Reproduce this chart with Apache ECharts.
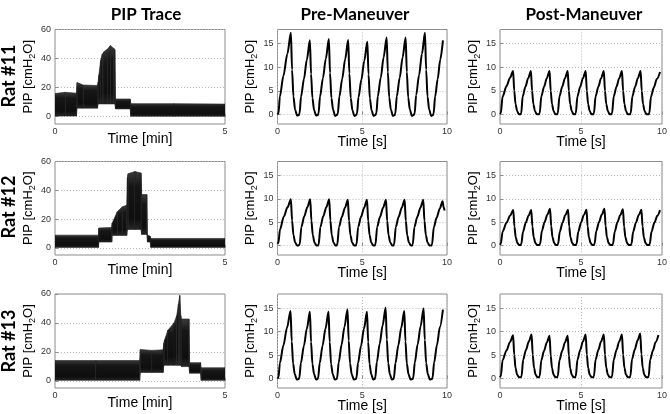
<!DOCTYPE html>
<html><head><meta charset="utf-8">
<script src="https://cdn.jsdelivr.net/npm/echarts@6/dist/echarts.min.js"></script>
<style>html,body{margin:0;padding:0;background:#fff}#c{width:670px;height:414px}</style>
</head><body><div id="c"></div>
<script>
// ---------- text / ticks ----------
const colTitles = ['PIP Trace', 'Pre-Maneuver', 'Post-Maneuver'];
const rowLabels = ['Rat #11', 'Rat #12', 'Rat #13'];
const traceTicksY = [0, 20, 40, 60];
const waveTicksY = [0, 5, 10, 15];

// ---------- PIP trace envelopes (time in min, low / high PIP) ----------
const trace11T    = [0, 0.30, 0.63, 0.65, 0.83, 1.25, 1.27, 1.29, 1.34, 1.39, 1.44, 1.54, 1.63, 1.73, 1.76, 1.78, 2.21, 2.23, 3.5, 5.0];
const trace11Low  = [0.5, 0.5, 0.5, 5.9, 5.9, 5.9, 8.8, 8.8, 8.8, 8.8, 8.8, 8.8, 8.8, 8.8, 8.8, 5.4, 5.4, 0.3, 0.3, 0.3];
const trace11High = [16, 16.8, 16.2, 23.5, 21.8, 21.5, 24, 28.5, 38.6, 43, 44.7, 46.5, 49, 47, 46, 12.2, 12.2, 9, 9, 8.7];

const trace12T    = [0, 1.28, 1.29, 1.67, 1.68, 1.83, 1.98, 2.11, 2.13, 2.15, 2.35, 2.53, 2.55, 2.70, 2.72, 2.80, 2.82, 5.0];
const trace12Low  = [0.3, 0.3, 4, 4, 8.6, 8.6, 8.6, 8.6, 12.7, 12.7, 12.7, 12.7, 9.3, 9.3, 4, 4, 0.3, 0.3];
const trace12High = [8.8, 8.8, 13.8, 14.2, 17, 25, 28.5, 29.6, 48.8, 51.5, 53, 52, 37, 37, 9, 8, 6.5, 6.5];

const trace13T    = [0, 1.2, 2.49, 2.51, 2.85, 3.18, 3.20, 3.22, 3.32, 3.50, 3.58, 3.63, 3.67, 3.70, 3.72, 3.94, 3.96, 4.28, 4.30, 5.0];
const trace13Low  = [0.3, 0.3, 0.3, 5.7, 5.7, 5.7, 10.7, 10.7, 10.7, 10.7, 10.7, 10.7, 10.7, 10.7, 9.8, 9.8, 5.2, 5.2, 0.3, 0.3];
const trace13High = [14, 14, 14, 21.6, 21, 21.4, 26, 28, 35, 40, 45, 53, 59, 45, 42.7, 42.7, 12.5, 12.5, 9, 9];

// ---------- breath waveforms [time s, PIP] ----------
const pre11 = [[0,0],[0.06,0.3],[0.14,3.8],[0.35,8.2],[0.58,12.8],[0.79,17.3],
[0.86,9.5],[0.94,3.8],[1.04,1.0],[1.16,-0.2],[1.26,-0.1],
[1.30,0.2],[1.39,3.8],[1.56,7.5],[1.73,11.6],[1.91,15.7],
[1.98,8.6],[2.06,3.5],[2.16,0.9],[2.28,-0.2],[2.38,-0.1],
[2.42,0.2],[2.51,3.8],[2.68,7.7],[2.85,11.8],[3.03,16.0],
[3.10,8.8],[3.18,3.5],[3.28,1.0],[3.40,-0.3],[3.50,-0.1],
[3.56,0.2],[3.65,3.8],[3.82,7.6],[3.99,11.7],[4.17,15.8],
[4.24,8.7],[4.32,3.5],[4.42,0.9],[4.54,-0.3],[4.64,-0.1],
[4.69,0.2],[4.78,3.7],[4.95,7.4],[5.12,11.4],[5.30,15.4],
[5.37,8.5],[5.45,3.4],[5.55,0.9],[5.67,-0.3],[5.77,-0.1],
[5.83,0.2],[5.92,3.9],[6.09,7.8],[6.26,12.1],[6.44,16.3],
[6.51,9.0],[6.59,3.6],[6.69,1.0],[6.81,-0.3],[6.91,-0.1],
[6.95,0.2],[7.04,3.9],[7.21,7.8],[7.38,12.1],[7.56,16.3],
[7.63,9.0],[7.71,3.6],[7.81,1.0],[7.93,-0.3],[8.03,-0.1],
[8.09,0.2],[8.18,4.1],[8.35,8.3],[8.52,12.8],[8.70,17.3],
[8.77,9.5],[8.85,3.8],[8.95,1.0],[9.07,-0.3],[9.17,-0.1],
[9.21,0.2],[9.30,3.8],[9.45,7.5],[9.60,11.6],[9.76,15.7]];

const post11 = [[0,0.1],[0.05,0.3],[0.16,3.8],[0.4,6.0],[0.62,7.8],[0.81,9.2],
[0.88,5.0],[0.96,2.2],[1.06,0.7],[1.17,0.05],[1.27,0.05],
[1.31,0.3],[1.40,3.8],[1.57,5.9],[1.74,7.7],[1.91,9.2],
[1.98,5.0],[2.06,2.2],[2.16,0.7],[2.27,0.05],[2.41,0.05],
[2.45,0.3],[2.55,3.8],[2.72,5.9],[2.89,7.7],[3.06,9.2],
[3.13,5.0],[3.21,2.2],[3.31,0.7],[3.42,0.05],[3.53,0.05],
[3.57,0.3],[3.67,3.8],[3.84,5.9],[4.01,7.7],[4.18,9.2],
[4.25,5.0],[4.33,2.2],[4.43,0.7],[4.54,0.05],[4.64,0.05],
[4.68,0.3],[4.78,3.8],[4.95,5.9],[5.12,7.7],[5.29,9.2],
[5.36,5.0],[5.44,2.2],[5.54,0.7],[5.65,0.05],[5.76,0.05],
[5.80,0.3],[5.90,3.8],[6.07,5.9],[6.24,7.7],[6.41,9.2],
[6.48,5.0],[6.56,2.2],[6.66,0.7],[6.77,0.05],[6.88,0.05],
[6.92,0.3],[7.02,3.8],[7.19,5.9],[7.36,7.7],[7.53,9.2],
[7.60,5.0],[7.68,2.2],[7.78,0.7],[7.89,0.05],[8.03,0.05],
[8.07,0.3],[8.17,3.8],[8.34,5.9],[8.51,7.7],[8.68,9.2],
[8.75,5.0],[8.83,2.2],[8.93,0.7],[9.04,0.05],[9.18,0.05],
[9.22,0.3],[9.32,3.8],[9.50,5.8],[9.68,7.5],[9.88,9.0]];

const pre12 = [[0,0.4],[0.05,0.6],[0.15,3.5],[0.37,6.2],[0.59,8.2],[0.79,9.9],
[0.86,5.4],[0.94,2.3],[1.04,0.7],[1.15,0.05],[1.25,0.05],
[1.31,0.3],[1.41,4.0],[1.58,6.3],[1.76,8.2],[1.93,9.9],
[2.00,5.4],[2.08,2.3],[2.18,0.7],[2.29,0.05],[2.39,0.05],
[2.43,0.3],[2.53,4.0],[2.70,6.3],[2.88,8.2],[3.05,9.9],
[3.12,5.4],[3.20,2.3],[3.30,0.7],[3.41,0.05],[3.49,0.05],
[3.53,0.3],[3.63,4.0],[3.80,6.2],[3.98,8.1],[4.15,9.8],
[4.22,5.3],[4.30,2.3],[4.40,0.7],[4.51,0.05],[4.62,0.05],
[4.66,0.3],[4.76,4.0],[4.93,6.2],[5.11,8.1],[5.28,9.8],
[5.35,5.3],[5.43,2.3],[5.53,0.7],[5.64,0.05],[5.74,0.05],
[5.78,0.3],[5.88,4.0],[6.05,6.2],[6.23,8.1],[6.40,9.8],
[6.47,5.3],[6.55,2.3],[6.65,0.7],[6.76,0.05],[6.84,0.05],
[6.88,0.3],[6.98,4.0],[7.15,6.2],[7.33,8.1],[7.50,9.8],
[7.57,5.3],[7.65,2.3],[7.75,0.7],[7.86,0.05],[7.94,0.05],
[7.98,0.3],[8.08,4.0],[8.25,6.2],[8.43,8.1],[8.60,9.8],
[8.67,5.3],[8.75,2.3],[8.85,0.7],[8.96,0.05],[9.08,0.05],
[9.12,0.3],[9.22,3.9],[9.39,6.0],[9.57,7.9],[9.74,9.5],
[9.80,8.2],[9.86,7.5]];

const post12 = [[0,0.2],[0.05,0.4],[0.16,3.0],[0.4,4.9],[0.62,6.4],[0.82,7.6],
[0.89,4.1],[0.97,1.8],[1.07,0.6],[1.18,0.15],[1.28,0.15],
[1.32,0.4],[1.42,3.0],[1.59,4.9],[1.76,6.4],[1.93,7.6],
[2.00,4.1],[2.08,1.8],[2.18,0.6],[2.29,0.15],[2.44,0.15],
[2.48,0.4],[2.58,3.1],[2.75,5.0],[2.92,6.6],[3.09,7.9],
[3.16,4.2],[3.24,1.8],[3.34,0.6],[3.45,0.15],[3.55,0.15],
[3.59,0.4],[3.69,3.0],[3.86,4.9],[4.03,6.5],[4.20,7.7],
[4.27,4.1],[4.35,1.8],[4.45,0.6],[4.56,0.15],[4.69,0.15],
[4.73,0.4],[4.83,3.0],[5.00,4.9],[5.17,6.5],[5.34,7.7],
[5.41,4.1],[5.49,1.8],[5.59,0.6],[5.70,0.15],[5.80,0.15],
[5.84,0.4],[5.94,3.1],[6.11,5.0],[6.28,6.6],[6.45,7.9],
[6.52,4.2],[6.60,1.8],[6.70,0.6],[6.81,0.15],[6.94,0.15],
[6.98,0.4],[7.08,3.0],[7.25,5.0],[7.42,6.5],[7.59,7.8],
[7.66,4.1],[7.74,1.8],[7.84,0.6],[7.95,0.15],[8.08,0.15],
[8.12,0.4],[8.22,3.0],[8.39,4.9],[8.56,6.5],[8.73,7.7],
[8.80,4.1],[8.88,1.8],[8.98,0.6],[9.09,0.15],[9.21,0.15],
[9.25,0.4],[9.35,3.0],[9.53,4.9],[9.71,6.4],[9.88,7.6]];

const pre13 = [[0,0],[0.06,0.3],[0.14,3.3],[0.35,7.1],[0.56,10.8],[0.77,14.4],
[0.84,7.9],[0.92,3.2],[1.02,0.9],[1.14,-0.2],[1.25,-0.1],
[1.29,0.2],[1.38,3.3],[1.56,7.0],[1.73,10.6],[1.91,14.2],
[1.98,7.8],[2.06,3.1],[2.16,0.9],[2.28,-0.2],[2.36,-0.1],
[2.40,0.2],[2.49,3.3],[2.66,7.0],[2.83,10.6],[3.01,14.2],
[3.08,7.8],[3.16,3.1],[3.26,0.9],[3.38,-0.2],[3.48,-0.1],
[3.52,0.2],[3.61,3.4],[3.78,7.2],[3.95,11.0],[4.13,14.7],
[4.20,8.1],[4.28,3.2],[4.38,0.9],[4.50,-0.2],[4.62,-0.1],
[4.66,0.2],[4.75,3.3],[4.93,7.0],[5.10,10.6],[5.28,14.2],
[5.35,7.8],[5.43,3.1],[5.53,0.9],[5.65,-0.2],[5.73,-0.1],
[5.77,0.2],[5.86,3.5],[6.03,7.4],[6.20,11.3],[6.38,15.1],
[6.45,8.3],[6.53,3.3],[6.63,0.9],[6.75,-0.2],[6.83,-0.1],
[6.87,0.2],[6.96,3.3],[7.13,7.1],[7.30,10.8],[7.48,14.4],
[7.55,7.9],[7.63,3.2],[7.73,0.9],[7.85,-0.2],[7.97,-0.1],
[8.01,0.2],[8.10,3.4],[8.27,7.3],[8.44,11.1],[8.62,14.9],
[8.69,8.2],[8.77,3.3],[8.87,0.9],[8.99,-0.2],[9.11,-0.1],
[9.15,0.2],[9.24,3.4],[9.41,7.2],[9.58,11.0],[9.76,14.7]];

const post13 = [[0,0.3],[0.05,0.5],[0.16,3.9],[0.4,6.0],[0.62,7.8],[0.81,9.2],
[0.88,5.0],[0.96,2.2],[1.06,0.8],[1.17,0.3],[1.29,0.3],
[1.33,0.5],[1.43,4.0],[1.60,6.1],[1.78,7.9],[1.95,9.4],
[2.02,5.1],[2.10,2.3],[2.20,0.8],[2.31,0.3],[2.41,0.3],
[2.45,0.5],[2.55,3.9],[2.72,5.9],[2.89,7.7],[3.06,9.1],
[3.13,4.9],[3.21,2.2],[3.31,0.8],[3.42,0.3],[3.53,0.3],
[3.57,0.5],[3.67,3.9],[3.84,5.9],[4.01,7.7],[4.18,9.1],
[4.25,4.9],[4.33,2.2],[4.43,0.8],[4.54,0.3],[4.64,0.3],
[4.68,0.5],[4.78,4.0],[4.95,6.1],[5.12,7.9],[5.29,9.4],
[5.36,5.1],[5.44,2.3],[5.54,0.8],[5.65,0.3],[5.76,0.3],
[5.80,0.5],[5.90,4.0],[6.07,6.1],[6.24,7.9],[6.41,9.4],
[6.48,5.1],[6.56,2.3],[6.66,0.8],[6.77,0.3],[6.88,0.3],
[6.92,0.5],[7.02,4.0],[7.19,6.1],[7.36,7.9],[7.53,9.4],
[7.60,5.1],[7.68,2.3],[7.78,0.8],[7.89,0.3],[8.01,0.3],
[8.05,0.5],[8.15,4.1],[8.32,6.2],[8.49,8.1],[8.66,9.6],
[8.73,5.2],[8.81,2.3],[8.91,0.8],[9.02,0.3],[9.14,0.3],
[9.18,0.5],[9.27,4.0],[9.44,6.0],[9.61,7.8],[9.78,9.3]];

// ---------- layout ----------
const FONT = '"Liberation Sans", Arial, sans-serif';
const cols = [{left: 55, width: 170}, {left: 277.5, width: 169.5}, {left: 500, width: 168}];
const rows = [{top: 29.5, height: 94.5}, {top: 161.5, height: 93.5}, {top: 294, height: 94}];

const traces = [
  {t: trace11T, lo: trace11Low, hi: trace11High},
  {t: trace12T, lo: trace12Low, hi: trace12High},
  {t: trace13T, lo: trace13Low, hi: trace13High}
];
const waves = [[pre11, post11], [pre12, post12], [pre13, post13]];

const grid = [], xAxis = [], yAxis = [], series = [];
const dotted = {show: true, lineStyle: {color: '#b8b8b8', type: [1, 2], width: 1}};
const yTickLbl = {fontSize: 9, color: '#333', fontFamily: FONT, margin: 4};
const xTickLbl = {fontSize: 9, color: '#333', fontFamily: FONT, margin: 3};
const yName = {
  name: 'PIP [cmH{s|2}O]', nameLocation: 'middle', nameGap: 18, nameMoveOverlap: false,
  nameTextStyle: {fontSize: 13, color: '#000', fontFamily: FONT, lineHeight: 18,
    rich: {s: {fontSize: 9, color: '#000', fontFamily: FONT, verticalAlign: 'bottom', lineHeight: 9}}}
};

function bandRenderer(tr) {
  return function (params, api) {
    const i = params.dataIndex;
    if (i >= tr.t.length - 1) return null;
    const a = api.coord([tr.t[i], tr.lo[i]]);
    const b = api.coord([tr.t[i + 1], tr.lo[i + 1]]);
    const c = api.coord([tr.t[i + 1], tr.hi[i + 1]]);
    const d = api.coord([tr.t[i], tr.hi[i]]);
    return {
      type: 'polygon',
      shape: {points: [a, b, c, d]},
      style: {
        fill: new echarts.graphic.LinearGradient(0, 0, 0, 1, [
          {offset: 0, color: '#3c3c3c'}, {offset: 0.25, color: '#161616'},
          {offset: 0.8, color: '#0e0e0e'}, {offset: 1, color: '#262626'}]),
        stroke: '#1c1c1c', lineWidth: 0.6
      }
    };
  };
}

for (let r = 0; r < 3; r++) {
  for (let c = 0; c < 3; c++) {
    const g = grid.length;
    grid.push({left: cols[c].left, width: cols[c].width, top: rows[r].top, height: rows[r].height,
      show: true, borderColor: '#8c8c8c', borderWidth: 1, backgroundColor: '#fff'});
    const isTrace = c === 0;
    xAxis.push({
      gridIndex: g, type: 'value', min: 0, max: isTrace ? 5 : 10, interval: 5,
      name: isTrace ? 'Time [min]' : 'Time [s]', nameLocation: 'middle', nameGap: isTrace ? 8 : 11,
      nameMoveOverlap: false,
      nameTextStyle: {fontSize: 14, color: '#000', fontFamily: FONT},
      axisLine: {show: false},
      axisTick: {show: true, inside: true, length: 3, lineStyle: {color: '#8c8c8c'}},
      axisLabel: xTickLbl,
      splitLine: isTrace ? {show: false} : dotted
    });
    const ticks = isTrace ? traceTicksY : waveTicksY;
    yAxis.push(Object.assign({
      gridIndex: g, type: 'value', min: isTrace ? -5 : -2, max: isTrace ? 60 : 18,
      axisLine: {show: false},
      axisTick: {show: true, inside: true, length: 3, lineStyle: {color: '#8c8c8c'}, customValues: ticks},
      axisLabel: Object.assign({customValues: ticks}, yTickLbl),
      splitLine: dotted
    }, yName));
    if (isTrace) {
      const tr = traces[r];
      series.push({
        type: 'custom', xAxisIndex: g, yAxisIndex: g, silent: true, clip: true,
        renderItem: bandRenderer(tr),
        encode: {x: 0, y: [1, 2]},
        data: tr.t.map((t, i) => [t, tr.lo[i], tr.hi[i]])
      });
    } else {
      series.push({
        type: 'line', xAxisIndex: g, yAxisIndex: g, symbol: 'none', silent: true,
        smooth: 0.3, smoothMonotone: 'x',
        lineStyle: {color: '#000', width: 2},
        data: waves[r][c - 1]
      });
    }
  }
}

const graphic = [];
const titleX = [146, 355, 584];
colTitles.forEach((t, i) => graphic.push({type: 'text', x: titleX[i], y: 15,
  style: {text: t, font: 'bold 17px Lato, "Open Sans", sans-serif', fill: '#000', align: 'center', verticalAlign: 'middle'}}));
const rowY = [76, 207, 341];
rowLabels.forEach((t, i) => graphic.push({type: 'text', x: 9, y: rowY[i], rotation: Math.PI / 2,
  style: {text: t, font: 'bold 18px Lato, "Open Sans", sans-serif', fill: '#000', align: 'center', verticalAlign: 'middle'}}));

const chart = echarts.init(document.getElementById('c'), null, {renderer: 'canvas'});
chart.setOption({animation: false, backgroundColor: '#fff', grid, xAxis, yAxis, series, graphic});
</script>
</body></html>
